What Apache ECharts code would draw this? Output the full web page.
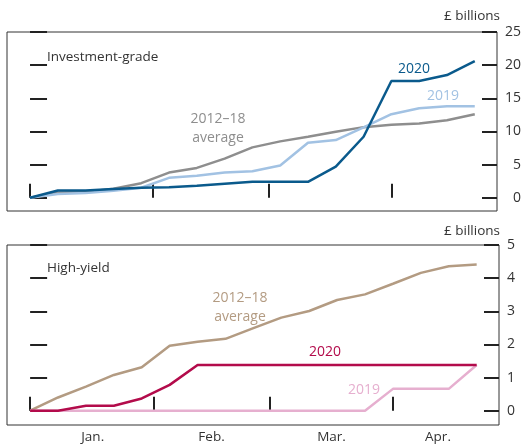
<!DOCTYPE html>
<html><head><meta charset="utf-8">
<script src="https://cdn.jsdelivr.net/npm/echarts@6/dist/echarts.min.js"></script>
<style>html,body{margin:0;padding:0;background:#fff}#c{width:524px;height:448px}</style>
</head><body><div id="c"></div>
<script>
// Day offsets from 1 January (weekly observations)
const days = [0, 7, 14, 21, 28, 35, 42, 49, 56, 63, 70, 77, 84, 91, 98, 105, 112];

// Investment-grade (£ billions, cumulative)
const ig2020 = [0, 1.1, 1.1, 1.3, 1.5, 1.6, 1.8, 2.1, 2.4, 2.4, 2.4, 4.7, 9.2, 17.6, 17.6, 18.5, 20.6];
const ig2019 = [0, 0.55, 0.7, 1.05, 1.5, 3.0, 3.3, 3.8, 4.0, 4.85, 8.3, 8.7, 10.6, 12.6, 13.5, 13.8, 13.8];
const igAvg  = [0, 0.8, 0.85, 1.35, 2.2, 3.8, 4.5, 5.9, 7.6, 8.5, 9.2, 9.95, 10.65, 11.0, 11.2, 11.7, 12.6];

// High-yield (£ billions, cumulative)
const hy2020 = [0, 0, 0.15, 0.15, 0.37, 0.78, 1.38, 1.38, 1.38, 1.38, 1.38, 1.38, 1.38, 1.38, 1.38, 1.38, 1.38];
const hy2019 = [0, 0, 0, 0, 0, 0, 0, 0, 0, 0, 0, 0, 0, 0.66, 0.66, 0.66, 1.38];
const hyAvg  = [0, 0.4, 0.73, 1.08, 1.31, 1.96, 2.08, 2.17, 2.49, 2.81, 3.01, 3.34, 3.51, 3.83, 4.16, 4.36, 4.41];

// Axis ticks and labels
const monthStarts = [0, 31, 60, 91];
const monthLabels = ['Jan.', 'Feb.', 'Mar.', 'Apr.'];
const monthLabelPos = [15.7, 45.5, 75.6, 102.3];
const igTicks = [0, 5, 10, 15, 20, 25];
const hyTicks = [0, 1, 2, 3, 4, 5];

const FONT = 'Open Sans';
const pair = arr => days.map((d, i) => [d, arr[i]]);

const chart = echarts.init(document.getElementById('c'), null, {renderer: 'canvas'});

function xAxis(gridIndex, showLabels) {
  return {
    type: 'value', gridIndex, min: -5.8, max: 117.6,
    axisLine: {show: false}, splitLine: {show: false},
    axisTick: {show: true, inside: true, length: 14, customValues: monthStarts,
               lineStyle: {color: '#222', width: 2}},
    axisLabel: {show: showLabels, customValues: monthLabelPos, margin: 5,
                fontFamily: FONT, fontSize: 13.5, color: '#333',
                formatter: v => monthLabels[monthLabelPos.indexOf(v)] || ''}
  };
}
function yAxes(gridIndex, min, max, ticks, labelAlign, labelMargin) {
  return [{
    type: 'value', gridIndex, position: 'left', min, max,
    axisLine: {show: false}, splitLine: {show: false},
    axisTick: {show: true, inside: true, length: 17, customValues: ticks,
               lineStyle: {color: '#222', width: 2}},
    axisLabel: {show: false}
  }, {
    type: 'value', gridIndex, position: 'right', min, max,
    axisLine: {show: false}, splitLine: {show: false},
    axisTick: {show: true, inside: true, length: 15, customValues: ticks,
               lineStyle: {color: '#222', width: 2}},
    axisLabel: {show: true, customValues: ticks, align: labelAlign, margin: labelMargin,
                fontFamily: FONT, fontSize: 14, color: '#333'}
  }];
}
function line(name, data, xi, yi, color) {
  return {name, type: 'line', xAxisIndex: xi, yAxisIndex: yi, data: pair(data),
          symbol: 'none', smooth: false, lineStyle: {color, width: 2.5},
          itemStyle: {color}, silent: true, animation: false};
}
function txt(x, y, text, color, align, size) {
  return {type: 'text', x, y, style: {text, fill: color, font: (size || 13.5) + 'px "' + FONT + '"',
          textAlign: align || 'center', textVerticalAlign: 'middle'}};
}

const C = {ig20: '#0a5a8c', ig19: '#a2c2e3', igAvg: '#8e8e8e',
           hy20: '#b30b4b', hy19: '#e6afcf', hyAvg: '#b39b82', text: '#333'};

chart.setOption({
  animation: false,
  grid: [
    {left: 7, right: 25, top: 32, height: 179, show: true, borderColor: '#333', borderWidth: 1, backgroundColor: 'transparent'},
    {left: 7, right: 25, top: 245, height: 180, show: true, borderColor: '#333', borderWidth: 1, backgroundColor: 'transparent'}
  ],
  xAxis: [xAxis(0, false), xAxis(1, true)],
  yAxis: [...yAxes(0, -2, 25, igTicks, 'right', 24), ...yAxes(1, -0.43, 5, hyTicks, 'left', 8)],
  series: [
    line('2012–18 average', igAvg, 0, 0, C.igAvg),
    line('2019', ig2019, 0, 0, C.ig19),
    line('2020', ig2020, 0, 0, C.ig20),
    line('2012–18 average', hyAvg, 1, 2, C.hyAvg),
    line('2019', hy2019, 1, 2, C.hy19),
    line('2020', hy2020, 1, 2, C.hy20)
  ],
  graphic: [
    txt(500, 16, '£ billions', C.text, 'right'),
    txt(500, 231, '£ billions', C.text, 'right'),
    txt(47, 57, 'Investment-grade', C.text, 'left'),
    txt(47, 268, 'High-yield', C.text, 'left'),
    txt(218, 119, '2012–18', C.igAvg, 'center', 14),
    txt(218, 138, 'average', C.igAvg, 'center', 14),
    txt(414, 69, '2020', C.ig20, 'center', 14),
    txt(443, 96, '2019', C.ig19, 'center', 14),
    txt(240, 298, '2012–18', C.hyAvg, 'center', 14),
    txt(240, 317, 'average', C.hyAvg, 'center', 14),
    txt(325, 352, '2020', C.hy20, 'center', 14),
    txt(364, 390, '2019', C.hy19, 'center', 14)
  ]
});
</script></body></html>
